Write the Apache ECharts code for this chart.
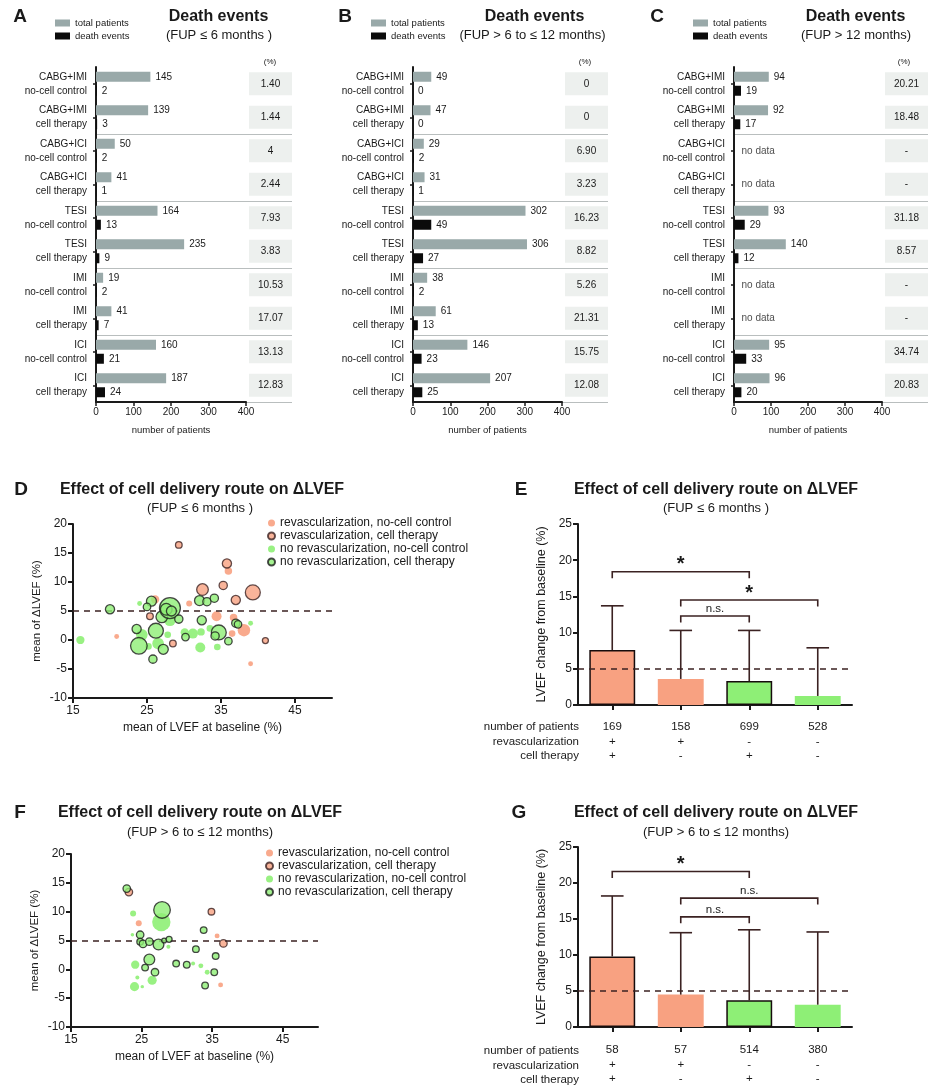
<!DOCTYPE html>
<html><head><meta charset="utf-8">
<script src="https://cdn.jsdelivr.net/npm/echarts@6/dist/echarts.min.js"></script>
<style>html,body{margin:0;padding:0;background:#fff}#c{width:931px;height:1087px}</style>
</head><body><div id="c"></div>
<script>
// ---------------- DATA ----------------
// Panels A–C (death events)
const rowGroups = ['CABG+IMI','CABG+IMI','CABG+ICI','CABG+ICI','TESI','TESI','IMI','IMI','ICI','ICI'];
const rowArms = ['no-cell control','cell therapy','no-cell control','cell therapy','no-cell control','cell therapy','no-cell control','cell therapy','no-cell control','cell therapy'];
const totalA = [145,139,50,41,164,235,19,41,160,187];
const deathA = [2,3,2,1,13,9,2,7,21,24];
const pctA = ['1.40','1.44','4','2.44','7.93','3.83','10.53','17.07','13.13','12.83'];
const totalB = [49,47,29,31,302,306,38,61,146,207];
const deathB = [0,0,2,1,49,27,2,13,23,25];
const pctB = ['0','0','6.90','3.23','16.23','8.82','5.26','21.31','15.75','12.08'];
const totalC = [94,92,null,null,93,140,null,null,95,96];
const deathC = [19,17,null,null,29,12,null,null,33,20];
const pctC = ['20.21','18.48','-','-','31.18','8.57','-','-','34.74','20.83'];

// Panels D / F (scatter): [baseline LVEF, mean dLVEF, patients]
const D_revNoCell = [[36.0,11.9,14],[30.7,6.3,9],[34.4,4.1,25],[36.7,3.9,14],[36.5,1.1,11],[38.1,1.7,39],[39.0,-4.1,6],[20.9,0.6,6],[26.1,7.0,17]];
const D_revCell = [[29.3,16.4,11],[35.8,13.2,21],[32.5,8.7,34],[35.3,9.4,17],[39.3,8.2,56],[37.0,6.9,21],[25.4,4.1,11],[28.5,-0.6,11],[41.0,-0.1,9]];
const D_noRevNoCell = [[16.0,0.0,17],[24.0,6.3,6],[24.3,0.9,34],[25.2,-1.1,11],[26.5,-0.6,34],[27.8,0.9,11],[28.1,3.4,34],[30.1,1.3,17],[31.2,1.1,25],[32.3,1.4,14],[32.2,-1.3,25],[33.5,2.0,11],[34.5,-1.2,11],[39.0,2.9,6]];
const D_noRevCell = [[20.0,5.3,21],[23.6,1.9,21],[23.9,-1.0,69],[25.6,6.7,25],[25.0,5.7,14],[26.2,1.6,56],[25.8,-3.3,17],[27.2,-1.6,25],[27.0,4.0,34],[28.1,5.5,109],[27.6,5.3,34],[28.3,5.0,25],[29.3,3.6,17],[30.2,0.5,14],[32.1,6.8,25],[32.4,3.4,21],[33.1,6.6,17],[34.1,7.2,17],[34.7,1.3,56],[34.2,0.7,17],[36.0,-0.2,14],[37.0,2.9,17],[37.3,2.7,14]];
const F_revNoCell = [[24.6,8.0,9],[35.7,5.8,6],[36.2,-2.7,6]];
const F_revCell = [[23.2,13.4,14],[34.9,10.0,11],[36.6,4.5,14]];
const F_noRevNoCell = [[23.8,9.7,9],[23.7,6.0,3],[24.1,0.8,17],[24.4,-1.4,4],[24.0,-3.0,21],[25.1,-3.0,3],[26.5,-1.9,21],[27.8,8.2,84],[28.8,3.9,4],[32.3,1.0,4],[33.4,0.6,6],[34.3,-0.5,6]];
const F_noRevCell = [[22.9,14.0,14],[24.8,6.0,14],[24.8,4.8,11],[25.2,4.4,14],[26.1,4.8,14],[26.1,1.7,29],[25.5,0.3,11],[26.9,-0.5,14],[27.4,4.3,29],[27.9,10.3,69],[28.2,5.0,6],[28.9,5.2,9],[29.9,1.0,11],[31.4,0.8,11],[32.7,3.5,11],[33.8,6.8,11],[34.0,-2.8,11],[35.5,2.3,11],[35.3,-0.5,11]];
const lvefTicks = [15,25,35,45];
const scatterNames = ['revascularization, no-cell control','revascularization, cell therapy','no revascularization, no-cell control','no revascularization, cell therapy'];

// Panels E / G (bars)
const revascSign = ['+','+','-','-'];
const cellSign = ['+','-','+','-'];
const patientsE = [169,158,699,528];
const meanE = [7.6,3.6,3.3,1.25];
const errTopE = [13.7,10.3,10.3,7.9];
const brE_from = [0,1,1], brE_to = [2,3,2], brE_y = [18.4,14.5,12.3], brE_label = ['*','*','n.s.'];
const patientsG = [58,57,514,380];
const meanG = [9.8,4.5,3.7,3.1];
const errTopG = [18.2,13.1,13.5,13.2];
const brG_from = [0,1,1], brG_to = [2,3,2], brG_y = [21.6,17.9,15.3], brG_label = ['*','n.s.','n.s.'];
const refLine = 5;

// ---------------- STYLE ----------------
const FONT = "'Liberation Sans', Arial, Helvetica, sans-serif";
const INK = '#1a1a1a';
const DARK = '#3b2222';
const GRAY_BAR = '#99A9A9';
const BOX = '#EDF0EE';
const SALMON = '#F8A181';
const GREEN = '#8EEF76';
const TOPFS = 10;

const chart = echarts.init(document.getElementById('c'), null, {renderer: 'canvas'});

const grid = [], xAxis = [], yAxis = [], series = [];
const rowLabels = rowGroups.map((g, i) => g + '\n' + rowArms[i]);

const topPanels = [
  {total: totalA, death: deathA, pct: pctA, left: 96, width: 150},
  {total: totalB, death: deathB, pct: pctB, left: 413, width: 149},
  {total: totalC, death: deathC, pct: pctC, left: 734, width: 148}
];
const sepInterval = (i) => i > 0 && i < rowLabels.length && i % 2 === 0;

topPanels.forEach(p => {
  const gi = grid.length;
  grid.push({left: p.left, top: 67, width: p.width, height: 335});
  grid.push({left: p.left + p.width, top: 67, width: 46, height: 335});
  xAxis.push({
    type: 'value', gridIndex: gi, min: 0, max: 400, interval: 100,
    axisLine: {show: true, lineStyle: {color: INK, width: 2}},
    axisTick: {show: true, length: 4, lineStyle: {color: INK, width: 1.5}},
    axisLabel: {fontSize: TOPFS, color: INK, fontFamily: FONT, margin: 5},
    splitLine: {show: false},
    name: 'number of patients', nameLocation: 'middle', nameGap: 23,
    nameTextStyle: {fontSize: 9.5, color: INK, fontFamily: FONT}
  });
  xAxis.push({type: 'value', gridIndex: gi + 1, min: -0.07, max: 1, show: false});
  yAxis.push({
    type: 'category', gridIndex: gi, data: rowLabels, inverse: true,
    axisLine: {show: true, lineStyle: {color: INK, width: 2}},
    axisTick: {show: true, length: 3, alignWithLabel: true, lineStyle: {color: INK, width: 1.5}},
    axisLabel: {fontSize: TOPFS, color: INK, fontFamily: FONT, lineHeight: 14, margin: 9, align: 'right'},
    splitLine: {show: true, interval: sepInterval, lineStyle: {color: '#b9bebe', width: 1}}
  });
  yAxis.push({
    type: 'category', gridIndex: gi + 1, data: rowLabels, inverse: true,
    axisLine: {show: false}, axisTick: {show: false}, axisLabel: {show: false},
    splitLine: {show: true, interval: sepInterval, lineStyle: {color: '#b9bebe', width: 1}}
  });
  const lab = {show: true, position: 'right', distance: 5, fontSize: TOPFS, color: INK, fontFamily: FONT};
  series.push({
    type: 'bar', name: 'total patients', xAxisIndex: gi, yAxisIndex: gi,
    data: p.total, barWidth: 10, barGap: '40%', itemStyle: {color: GRAY_BAR}, label: lab, silent: true
  });
  series.push({
    type: 'bar', name: 'death events', xAxisIndex: gi, yAxisIndex: gi,
    data: p.death, barWidth: 10, barGap: '40%', itemStyle: {color: '#0b0b0b'}, label: lab, silent: true
  });
  // percentage boxes (table column)
  series.push({
    type: 'bar', name: 'pct', xAxisIndex: gi + 1, yAxisIndex: gi + 1,
    data: p.pct.map(() => 1), barWidth: 23, itemStyle: {color: BOX}, silent: true,
    label: {show: true, position: 'inside', fontSize: TOPFS, color: INK, fontFamily: FONT,
      formatter: (q) => p.pct[q.dataIndex]}
  });
  const missing = p.total.map((v, i) => v == null ? [0, i] : null).filter(Boolean);
  if (missing.length) {
    series.push({
      type: 'scatter', name: 'nodata', xAxisIndex: gi, yAxisIndex: gi, data: missing,
      symbolSize: 1, itemStyle: {color: 'rgba(0,0,0,0)'}, silent: true,
      label: {show: true, position: 'right', distance: 7, formatter: 'no data', fontSize: TOPFS, color: INK, fontFamily: FONT}
    });
  }
});

// ---------- Scatter panels D & F ----------
function scatterPanel(sets, g, legendTop) {
  const gi = grid.length;
  grid.push(g);
  xAxis.push({
    type: 'value', gridIndex: gi, min: 15, max: 50,
    axisLine: {show: true, onZero: false, lineStyle: {color: INK, width: 2}},
    axisTick: {show: true, length: 5, customValues: lvefTicks, lineStyle: {color: INK, width: 2}},
    axisLabel: {fontSize: 12, color: INK, fontFamily: FONT, customValues: lvefTicks, margin: 7},
    splitLine: {show: false},
    name: 'mean of LVEF at baseline (%)', nameLocation: 'middle', nameGap: 24,
    nameTextStyle: {fontSize: 12, color: INK, fontFamily: FONT}
  });
  yAxis.push({
    type: 'value', gridIndex: gi, min: -10, max: 20, interval: 5,
    axisLine: {show: true, lineStyle: {color: INK, width: 2}},
    axisTick: {show: true, length: 5, lineStyle: {color: INK, width: 2}},
    axisLabel: {fontSize: 12, color: INK, fontFamily: FONT, margin: 6},
    splitLine: {show: false},
    name: 'mean of \u0394LVEF (%)', nameLocation: 'middle', nameGap: 30,
    nameTextStyle: {fontSize: 11.5, color: INK, fontFamily: FONT}
  });
  series.push({
    type: 'line', name: 'ref', xAxisIndex: gi, yAxisIndex: gi, data: [], z: 1, silent: true,
    markLine: {silent: true, symbol: 'none', label: {show: false},
      lineStyle: {color: DARK, width: 1.5, type: [6, 5]}, data: [{yAxis: refLine}]}
  });
  const styles = [
    {color: SALMON, opacity: 0.9},
    {color: SALMON, borderColor: DARK, borderWidth: 1.3},
    {color: GREEN, opacity: 0.9},
    {color: GREEN, borderColor: '#1c1c1c', borderWidth: 1.3}
  ];
  sets.forEach((d, k) => {
    series.push({
      type: 'scatter', name: scatterNames[k], xAxisIndex: gi, yAxisIndex: gi, data: d, z: 3 + k,
      symbolSize: (v) => 2.0 * Math.sqrt(v[2]), itemStyle: styles[k], silent: true
    });
  });
  legends.push({
    data: scatterNames, left: g.left + 194, top: legendTop, orient: 'vertical', padding: 0,
    icon: 'circle', itemWidth: 7, itemHeight: 7, itemGap: 0, selectedMode: false,
    textStyle: {fontSize: 12, lineHeight: 13, color: INK, fontFamily: FONT}
  });
}

// ---------- Bar panels E & G ----------
function barPanel(g, mean, errTop, patients, bFrom, bTo, bY, bLab, labelMargin) {
  const gi = grid.length;
  grid.push(g);
  xAxis.push({
    type: 'category', gridIndex: gi, data: patients.map(String),
    axisLine: {show: true, lineStyle: {color: INK, width: 2}},
    axisTick: {show: true, length: 5, alignWithLabel: true, lineStyle: {color: INK, width: 2}},
    axisLabel: {fontSize: 11.5, color: INK, fontFamily: FONT, lineHeight: 14.5, margin: labelMargin,
      formatter: (v, i) => patients[i] + '\n' + revascSign[i] + '\n' + cellSign[i]}
  });
  yAxis.push({
    type: 'value', gridIndex: gi, min: 0, max: 25, interval: 5,
    axisLine: {show: true, lineStyle: {color: INK, width: 2}},
    axisTick: {show: true, length: 5, lineStyle: {color: INK, width: 2}},
    axisLabel: {fontSize: 12, color: INK, fontFamily: FONT, margin: 6},
    splitLine: {show: false},
    name: 'LVEF change from baseline (%)', nameLocation: 'middle', nameGap: 30,
    nameTextStyle: {fontSize: 12.5, color: INK, fontFamily: FONT}
  });
  series.push({
    type: 'line', name: 'ref', xAxisIndex: gi, yAxisIndex: gi, data: [], z: 1, silent: true,
    markLine: {silent: true, symbol: 'none', label: {show: false},
      lineStyle: {color: DARK, width: 1.5, type: [6, 5]}, data: [{yAxis: refLine}]}
  });
  series.push({
    type: 'bar', name: 'mean', xAxisIndex: gi, yAxisIndex: gi, z: 2, silent: true, barWidth: '67%',
    data: mean.map((v, i) => ({
      value: v,
      itemStyle: {
        color: revascSign[i] === '+' ? SALMON : GREEN,
        borderColor: cellSign[i] === '+' ? '#160c0c' : 'rgba(0,0,0,0)',
        borderWidth: cellSign[i] === '+' ? 1.5 : 0
      }
    }))
  });
  series.push({
    type: 'custom', name: 'err', xAxisIndex: gi, yAxisIndex: gi, z: 3, silent: true,
    data: mean.map((v, i) => [i, v, errTop[i]]),
    encode: {x: 0, y: [1, 2]},
    renderItem: (params, api) => {
      const p0 = api.coord([api.value(0), api.value(1)]);
      const p1 = api.coord([api.value(0), api.value(2)]);
      const hw = api.size([1, 0])[0] * 0.165;
      const st = {stroke: DARK, lineWidth: 1.6};
      return {type: 'group', children: [
        {type: 'line', shape: {x1: p0[0], y1: p0[1], x2: p1[0], y2: p1[1]}, style: st},
        {type: 'line', shape: {x1: p1[0] - hw, y1: p1[1], x2: p1[0] + hw, y2: p1[1]}, style: st}
      ]};
    }
  });
  series.push({
    type: 'custom', name: 'brackets', xAxisIndex: gi, yAxisIndex: gi, z: 4, silent: true,
    data: bFrom.map((f, i) => [f, bTo[i], bY[i]]),
    encode: {x: [0, 1], y: 2},
    renderItem: (params, api) => {
      const y = api.value(2);
      const pa = api.coord([api.value(0), y]);
      const pb = api.coord([api.value(1), y]);
      const drop = 6.5;
      const lab = bLab[params.dataIndex];
      const star = lab === '*';
      return {type: 'group', children: [
        {type: 'polyline', shape: {points: [[pa[0], pa[1] + drop], [pa[0], pa[1]], [pb[0], pb[1]], [pb[0], pb[1] + drop]]},
          style: {stroke: DARK, lineWidth: 1.6, fill: 'none'}},
        {type: 'text', x: (pa[0] + pb[0]) / 2, y: star ? pa[1] - 7 : pa[1] - 1,
          style: {text: lab, align: 'center', verticalAlign: star ? 'middle' : 'bottom',
            fontSize: star ? 20 : 11.5, fontWeight: star ? 'bold' : 'normal', fontFamily: FONT, fill: INK}}
      ]};
    }
  });
}

const legends = [
  {left: 55, top: 18}, {left: 371, top: 18}, {left: 693, top: 18}
].map(o => ({
  data: ['total patients', 'death events'], left: o.left, top: o.top, orient: 'vertical', padding: 0,
  icon: 'rect', itemWidth: 15, itemHeight: 7, itemGap: 3, selectedMode: false,
  textStyle: {fontSize: 9.5, color: INK, fontFamily: FONT}
}));

scatterPanel([D_revNoCell, D_revCell, D_noRevNoCell, D_noRevCell], {left: 73, top: 524, width: 259, height: 174}, 516.5);
barPanel({left: 578, top: 524, width: 274, height: 181}, meanE, errTopE, patientsE, brE_from, brE_to, brE_y, brE_label, 15);
scatterPanel([F_revNoCell, F_revCell, F_noRevNoCell, F_noRevCell], {left: 71, top: 854, width: 247, height: 173}, 846.5);
barPanel({left: 578, top: 847, width: 274, height: 180}, meanG, errTopG, patientsG, brG_from, brG_to, brG_y, brG_label, 16);

// ---------- static texts ----------
function txt(x, y, text, size, weight, align, extra) {
  return Object.assign({type: 'text', x: x, y: y, silent: true,
    style: Object.assign({text: text, fontSize: size, fontWeight: weight || 'normal', fontFamily: FONT,
      fill: INK, align: align || 'center', verticalAlign: 'middle'}, extra || {})});
}
const T_TITLE = 'Effect of cell delivery route on \u0394LVEF';
const graphic = [
  txt(20, 17, 'A', 19, 'bold'), txt(345, 17, 'B', 19, 'bold'), txt(657, 17, 'C', 19, 'bold'),
  txt(218.5, 17, 'Death events', 16, 'bold'), txt(534.5, 17, 'Death events', 16, 'bold'), txt(855.5, 17, 'Death events', 16, 'bold'),
  txt(219, 35, '(FUP \u2264 6 months )', 13), txt(532.5, 35, '(FUP > 6 to \u2264 12 months)', 13), txt(856, 35, '(FUP > 12 months)', 13),
  txt(270, 62, '(%)', 8), txt(585, 62, '(%)', 8), txt(904, 62, '(%)', 8),
  txt(21, 490, 'D', 19, 'bold'), txt(202, 490, T_TITLE, 16, 'bold'), txt(200, 508, '(FUP \u2264 6 months )', 13),
  txt(521, 490, 'E', 19, 'bold'), txt(716, 490, T_TITLE, 16, 'bold'), txt(716, 508, '(FUP \u2264 6 months )', 13),
  txt(20, 813, 'F', 19, 'bold'), txt(200, 813, T_TITLE, 16, 'bold'), txt(200, 832, '(FUP > 6 to \u2264 12 months)', 13),
  txt(519, 813, 'G', 19, 'bold'), txt(716, 813, T_TITLE, 16, 'bold'), txt(716, 832, '(FUP > 6 to \u2264 12 months)', 13),
  txt(579, 720, 'number of patients\nrevascularization\ncell therapy', 11.5, 'normal', 'right', {verticalAlign: 'top', lineHeight: 14.5}),
  txt(579, 1044, 'number of patients\nrevascularization\ncell therapy', 11.5, 'normal', 'right', {verticalAlign: 'top', lineHeight: 14.5})
];

chart.setOption({
  backgroundColor: '#ffffff',
  animation: false,
  textStyle: {fontFamily: FONT},
  grid: grid, xAxis: xAxis, yAxis: yAxis, series: series,
  legend: legends,
  graphic: graphic
});
</script>
</body></html>
